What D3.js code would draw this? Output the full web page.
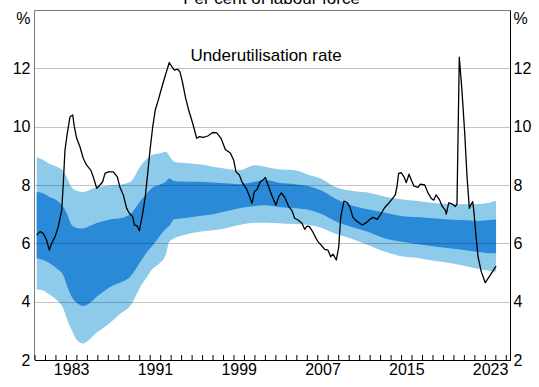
<!DOCTYPE html>
<html>
<head>
<meta charset="utf-8">
<script src="https://cdn.jsdelivr.net/npm/d3@7"></script>
<style>
  html, body { margin: 0; padding: 0; background: #fff; }
  svg { display: block; font-family: "Liberation Sans", Arial, sans-serif; }
</style>
</head>
<body>
<svg id="chart" width="539" height="387"></svg>
<script>
// Underutilisation rate (per cent of labour force)
const rateDates = [1980.21,1980.53,1980.84,1981.16,1981.41,1981.64,1981.96,1982.27,1982.60,1982.75,1982.91,1983.13,1983.39,1983.65,1983.80,1984.03,1984.34,1984.66,1984.98,1985.37,1985.61,1985.94,1986.25,1986.51,1986.73,1987.05,1987.52,1987.91,1988.16,1988.48,1988.80,1989.05,1989.38,1989.53,1989.79,1990.01,1990.33,1990.58,1990.81,1991.03,1991.29,1991.53,1991.82,1992.17,1992.55,1992.87,1993.13,1993.35,1993.67,1993.89,1994.15,1994.40,1994.72,1995.11,1995.49,1995.74,1996.12,1996.54,1997.02,1997.40,1997.81,1998.22,1998.70,1999.02,1999.24,1999.56,1999.81,2000.29,2000.61,2000.77,2000.99,2001.25,2001.56,2001.88,2002.04,2002.36,2002.68,2003.06,2003.32,2003.57,2003.89,2004.27,2004.59,2004.84,2005.16,2005.54,2005.80,2006.02,2006.24,2006.56,2006.88,2007.14,2007.38,2007.71,2008.02,2008.28,2008.50,2008.82,2009.05,2009.24,2009.55,2009.87,2010.10,2010.41,2010.73,2011.05,2011.30,2011.68,2012.01,2012.32,2012.73,2013.11,2013.44,2013.75,2014.07,2014.45,2014.61,2014.77,2015.02,2015.28,2015.50,2015.76,2015.98,2016.24,2016.62,2016.84,2017.26,2017.57,2017.89,2018.12,2018.34,2018.65,2018.91,2019.22,2019.32,2019.55,2019.86,2020.18,2020.34,2020.56,2020.81,2021.08,2021.30,2021.52,2021.71,2021.84,2021.97,2022.16,2022.35,2022.66,2023.04,2023.52,2024.07];
const rateValues = [6.28,6.40,6.34,6.11,5.77,6.00,6.23,6.57,7.14,8.05,9.20,9.77,10.34,10.40,10.00,9.60,9.31,8.91,8.68,8.51,8.28,7.89,8.00,8.11,8.40,8.45,8.45,8.28,7.92,7.66,7.20,7.03,6.91,6.63,6.60,6.43,7.03,7.60,8.40,9.20,10.00,10.57,10.91,11.37,11.83,12.20,12.05,11.94,11.97,11.88,11.49,11.03,10.57,10.11,9.60,9.66,9.63,9.68,9.80,9.79,9.60,9.22,9.10,8.85,8.45,8.34,8.11,7.83,7.54,7.37,7.77,7.85,8.11,8.19,8.26,7.94,7.62,7.31,7.60,7.73,7.58,7.26,7.12,6.86,6.80,6.69,6.48,6.59,6.57,6.40,6.17,6.02,5.94,5.79,5.77,5.54,5.63,5.43,5.88,6.91,7.45,7.39,7.26,6.89,6.77,6.69,6.63,6.71,6.82,6.89,6.82,7.03,7.23,7.35,7.48,7.66,7.94,8.40,8.42,8.28,8.08,8.37,8.17,7.96,7.92,8.03,8.00,7.73,7.54,7.48,7.66,7.51,7.28,7.14,7.00,7.39,7.35,7.26,7.35,12.38,11.26,9.77,8.28,7.20,7.35,7.43,7.03,6.23,5.54,5.03,4.65,4.91,5.22];

// Confidence bands around the estimate
const bandDates = [1980.21,1980.84,1981.48,1982.12,1982.75,1983.10,1983.55,1984.03,1984.66,1985.30,1985.94,1986.57,1987.21,1988.16,1989.12,1990.17,1990.74,1991.22,1991.89,1992.55,1992.87,1993.32,1994.18,1995.71,1997.05,1998.29,1999.53,2001.06,2002.01,2003.35,2004.88,2006.21,2007.45,2008.69,2010.22,2011.84,2013.47,2014.99,2016.62,2017.67,2019.20,2020.82,2022.44,2023.40,2024.07];
const outerUpper = [8.95,8.86,8.72,8.63,8.49,8.25,7.92,7.80,7.76,7.84,7.93,7.96,7.99,8.01,8.10,8.68,8.90,9.03,9.08,9.14,9.00,8.80,8.76,8.71,8.63,8.56,8.51,8.68,8.63,8.54,8.51,8.34,8.20,7.94,7.80,7.74,7.60,7.51,7.45,7.40,7.36,7.34,7.35,7.39,7.46];
const innerUpper = [7.77,7.71,7.58,7.48,7.25,7.02,6.63,6.53,6.51,6.60,6.70,6.76,6.82,6.86,7.00,7.48,7.72,7.90,8.00,8.12,8.22,8.14,8.12,8.11,8.09,8.06,8.03,8.11,8.17,8.08,8.03,7.96,7.80,7.54,7.31,7.17,7.05,6.94,6.90,6.87,6.83,6.80,6.77,6.80,6.82];
const innerLower = [5.49,5.43,5.31,5.14,4.91,4.55,4.17,3.96,3.85,3.96,4.17,4.34,4.50,4.65,4.85,5.40,5.70,5.90,6.22,6.50,6.60,6.82,6.86,6.94,7.00,7.10,7.20,7.28,7.31,7.25,7.20,7.14,7.00,6.77,6.57,6.40,6.17,6.06,5.97,5.92,5.85,5.78,5.70,5.66,5.66];
const outerLower = [4.42,4.38,4.23,4.06,3.77,3.40,3.03,2.69,2.57,2.72,2.94,3.10,3.28,3.58,3.85,4.55,4.85,5.10,5.30,5.62,6.06,6.17,6.28,6.40,6.45,6.52,6.63,6.71,6.71,6.69,6.66,6.63,6.53,6.34,6.17,5.94,5.71,5.56,5.50,5.43,5.35,5.25,5.12,5.06,5.03];

// Axis ticks and labels
const yTicks = [2, 4, 6, 8, 10, 12];
const gridValues = [4, 6, 8, 10, 12];
const yearLabels = [1983, 1991, 1999, 2007, 2015, 2023];
const yearTicks = d3.range(1980, 2026);

const plotLeft = 34.5, plotRight = 510.5, plotTop = 10.5, plotBottom = 360;
const x = d3.scaleLinear().domain([1980, 2025.45]).range([plotLeft, plotRight]);
const y = d3.scaleLinear().domain([2, 14]).range([plotBottom, 10]);

const svg = d3.select("#chart");
const fontSize = 16;

const bands = bandDates.map((d, i) => ({
  t: d, ou: outerUpper[i], iu: innerUpper[i], il: innerLower[i], ol: outerLower[i]
}));

const outerArea = d3.area().curve(d3.curveMonotoneX)
  .x(d => x(d.t)).y0(d => y(d.ol)).y1(d => y(d.ou));
const innerArea = d3.area().curve(d3.curveMonotoneX)
  .x(d => x(d.t)).y0(d => y(d.il)).y1(d => y(d.iu));

svg.append("path").datum(bands).attr("d", outerArea).attr("fill", "#8ecbeb");
svg.append("path").datum(bands).attr("d", innerArea).attr("fill", "#2a8ad7");

// horizontal gridlines
svg.append("g").selectAll("line").data(gridValues).join("line")
  .attr("x1", plotLeft).attr("x2", plotRight)
  .attr("y1", d => Math.round(y(d)) + 0.5).attr("y2", d => Math.round(y(d)) + 0.5)
  .attr("stroke", "rgba(0,0,0,0.23)").attr("stroke-width", 1);

// underutilisation rate line
const rate = rateDates.map((d, i) => ({ t: d, v: rateValues[i] }));
svg.append("path").datum(rate)
  .attr("d", d3.line().x(d => x(d.t)).y(d => y(d.v)))
  .attr("fill", "none").attr("stroke", "#000").attr("stroke-width", 1.3)
  .attr("stroke-linejoin", "round");

// frame
svg.append("line").attr("x1", plotLeft).attr("x2", plotRight).attr("y1", plotTop).attr("y2", plotTop)
  .attr("stroke", "#7a7a7a").attr("stroke-width", 1);
svg.append("line").attr("x1", plotLeft).attr("x2", plotLeft).attr("y1", plotTop).attr("y2", plotBottom)
  .attr("stroke", "#7a7a7a").attr("stroke-width", 1);
svg.append("line").attr("x1", plotRight).attr("x2", plotRight).attr("y1", plotTop).attr("y2", plotBottom)
  .attr("stroke", "#000").attr("stroke-width", 1);

// bottom axis: yearly ticks pointing up
const xAxis = svg.append("g").attr("transform", `translate(0,${plotBottom})`)
  .call(d3.axisBottom(x).tickValues(yearTicks).tickSizeInner(-5).tickSizeOuter(0).tickFormat(""));
xAxis.select(".domain").attr("stroke", "#000");
xAxis.selectAll(".tick line").attr("stroke", "#000");

// year labels centred within each labelled year
const xLabels = svg.append("g").attr("transform", `translate(0,${plotBottom})`)
  .call(d3.axisBottom(x).tickValues(yearLabels.map(d => d + 0.5)).tickSize(0).tickPadding(4)
    .tickFormat(d => String(Math.floor(d))));
xLabels.select(".domain").remove();
xLabels.selectAll("text").attr("font-size", fontSize).attr("fill", "#000")
  .attr("font-family", "Liberation Sans, Arial, sans-serif");

// left and right value axes
const yLeft = svg.append("g").attr("transform", `translate(${plotLeft},0)`)
  .call(d3.axisLeft(y).tickValues(yTicks).tickSize(0).tickPadding(4).tickFormat(d3.format("d")));
yLeft.select(".domain").remove();
yLeft.selectAll("text").attr("font-size", fontSize).attr("fill", "#000")
  .attr("font-family", "Liberation Sans, Arial, sans-serif");

const yRight = svg.append("g").attr("transform", `translate(${plotRight},0)`)
  .call(d3.axisRight(y).tickValues(yTicks).tickSize(0).tickPadding(3).tickFormat(d3.format("d")));
yRight.select(".domain").remove();
yRight.selectAll("text").attr("font-size", fontSize).attr("fill", "#000")
  .attr("font-family", "Liberation Sans, Arial, sans-serif");

// unit labels
svg.append("text").attr("x", plotLeft - 4).attr("y", 18).attr("dy", "0.35em")
  .attr("text-anchor", "end").attr("font-size", fontSize).text("%");
svg.append("text").attr("x", plotRight + 3).attr("y", 18).attr("dy", "0.35em")
  .attr("text-anchor", "start").attr("font-size", fontSize).text("%");

// titles
svg.append("text").attr("x", 271.5).attr("y", 4).attr("text-anchor", "middle")
  .attr("font-size", 17).text("Per cent of labour force");
svg.append("text").attr("x", 266).attr("y", 60.5).attr("text-anchor", "middle")
  .attr("font-size", 17).text("Underutilisation rate");
</script>
</body>
</html>
